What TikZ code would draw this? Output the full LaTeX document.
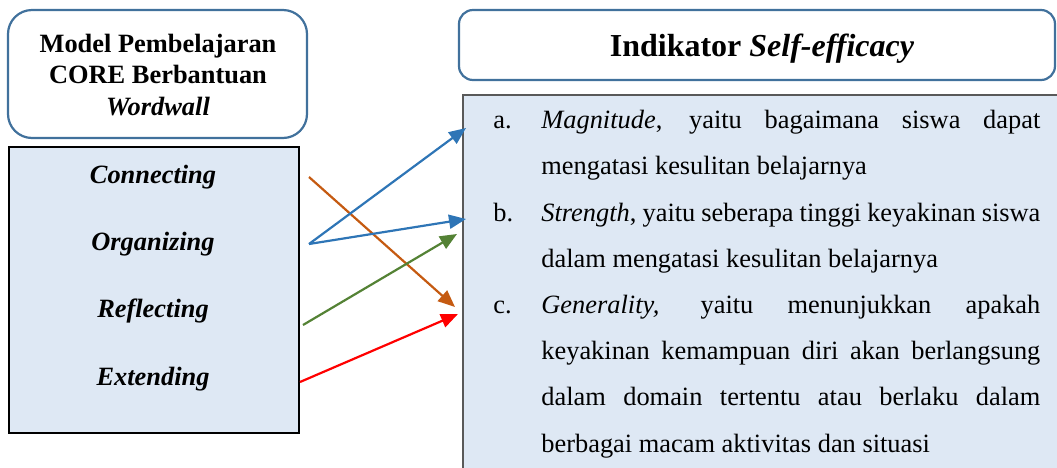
\documentclass[tikz,border=0pt]{standalone}
\usepackage{fontspec}
\setmainfont{Liberation Serif}
\usetikzlibrary{arrows.meta}
\definecolor{boxfill}{HTML}{DEE8F4}
\definecolor{roundline}{HTML}{41719C}
\definecolor{listline}{HTML}{595959}
\definecolor{cblue}{HTML}{2E75B6}
\definecolor{corange}{HTML}{C55A11}
\definecolor{cgreen}{HTML}{548235}
\definecolor{cred}{HTML}{FF0000}
\tikzset{
  roundbox/.style={draw=roundline, line width=1.1pt, fill=white},
  listbox/.style={draw=black, line width=0.7pt, fill=boxfill},
  rightlist/.style={draw=listline, line width=1pt, fill=boxfill},
  lefttxt/.style={anchor=base, inner sep=0pt, font=\fontsize{13.2}{15}\selectfont\bfseries},
  itemtxt/.style={anchor=base, inner sep=0pt, font=\fontsize{13.2}{15}\selectfont\bfseries\itshape},
  headtxt/.style={anchor=base, inner sep=0pt, font=\fontsize{16}{18}\selectfont\bfseries},
  rtxt/.style={anchor=base west, inner sep=0pt, font=\fontsize{13.2}{15}\selectfont},
  conn/.style={line width=1.1pt, -{Triangle[length=8.5pt,width=7pt]}},
}
\newcommand{\jline}[1]{\makebox[249.5pt][s]{#1}}
\begin{document}
\begin{tikzpicture}[x=0.5pt,y=-0.5pt]
\clip (0,0) rectangle (1057,467);
% boxes
\draw[roundbox, rounded corners=12pt] (8,10) rectangle (307,138);
\draw[listbox] (9,147) rectangle (299,433);
\draw[roundbox, rounded corners=7pt] (459,10) rectangle (1055,80);
\draw[rightlist] (463,95) rectangle (1075,485);
% left title
\node[lefttxt] (t1) at (158,52) {Model Pembelajaran};
\node[lefttxt] (t2) at (158,83) {CORE Berbantuan};
\node[lefttxt] (t3) at (158,115) {\itshape Wordwall};
% left items
\node[itemtxt] (con) at (153,183) {Connecting};
\node[itemtxt] (org) at (153,250) {Organizing};
\node[itemtxt] (ref) at (153,317) {Reflecting};
\node[itemtxt] (ext) at (153,385) {Extending};
% heading
\node[headtxt] (head) at (762,56) {Indikator \textit{Self-efficacy}};
% right text
\node[rtxt] (la) at (493,128) {a.};
\node[rtxt] (a1) at (541,128) {\jline{\textit{Magnitude}, yaitu bagaimana siswa dapat}};
\node[rtxt] (a2) at (541,174) {mengatasi kesulitan belajarnya};
\node[rtxt] (lb) at (493,221) {b.};
\node[rtxt] (b1) at (541,221) {\jline{\textit{Strength}, yaitu seberapa tinggi keyakinan siswa}};
\node[rtxt] (b2) at (541,267) {dalam mengatasi kesulitan belajarnya};
\node[rtxt] (lc) at (493,313) {c.};
\node[rtxt] (c1) at (541,313) {\jline{\textit{Generality,} yaitu menunjukkan apakah}};
\node[rtxt] (c2) at (541,359) {\jline{keyakinan kemampuan diri akan berlangsung}};
\node[rtxt] (c3) at (541,405) {\jline{dalam domain tertentu atau berlaku dalam}};
\node[rtxt] (c4) at (541,452) {berbagai macam aktivitas dan situasi};
% arrow end points
\coordinate (sCon) at (309,177);
\coordinate (sOrg) at (309,244);
\coordinate (sRef) at (303,325);
\coordinate (sExt) at (300,382);
\coordinate (eA) at (466,128);
\coordinate (eB) at (466,219);
\coordinate (eG) at (457,234);
\coordinate (eO) at (455,307);
\coordinate (eR) at (458,314);
% arrows
\draw[conn, corange] (sCon) -- (eO);
\draw[conn, cblue] (sOrg) -- (eA);
\draw[conn, cblue] (sOrg) -- (eB);
\draw[conn, cgreen] (sRef) -- (eG);
\draw[conn, cred] (sExt) -- (eR);
\end{tikzpicture}
\end{document}
